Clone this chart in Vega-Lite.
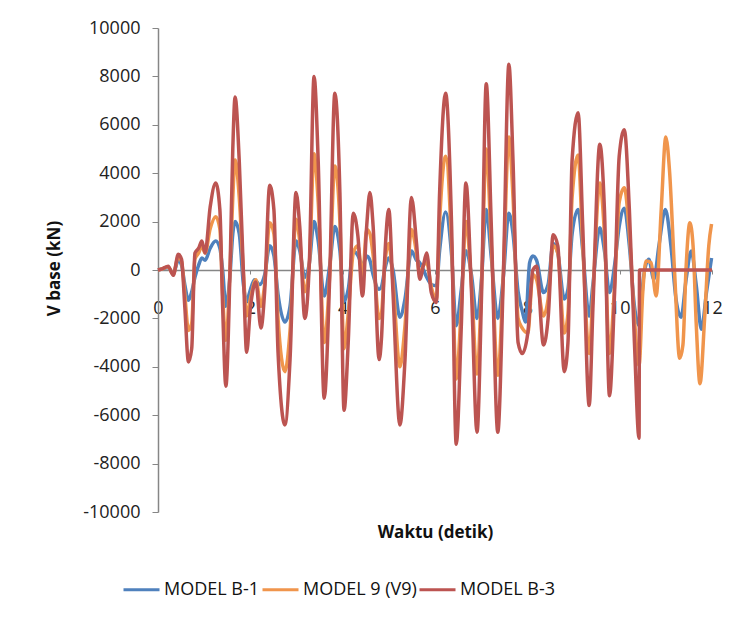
{
  "$schema": "https://vega.github.io/schema/vega-lite/v6.json",
  "width": 554,
  "height": 484,
  "autosize": "none",
  "padding": {"left": 158, "top": 28, "right": 24, "bottom": 107},
  "background": "white",
  "config": {"view": {"stroke": null}, "font": "Open Sans"},
  "datasets": {
    "b1": [
      {"t":0,"v":0},{"t":0.1,"v":50},{"t":0.22,"v":100},{"t":0.33,"v":-150},{"t":0.44,"v":400},{"t":0.51,"v":200},{"t":0.58,"v":-600},{"t":0.66,"v":-1250},{"t":0.73,"v":-900},{"t":0.8,"v":-300},{"t":0.88,"v":200},{"t":0.95,"v":500},{"t":1.02,"v":400},{"t":1.13,"v":900},{"t":1.25,"v":1200},{"t":1.34,"v":900},{"t":1.4,"v":0},{"t":1.47,"v":-1500},{"t":1.56,"v":-200},{"t":1.62,"v":1500},{"t":1.67,"v":2000},{"t":1.76,"v":1500},{"t":1.85,"v":-600},{"t":1.92,"v":-1300},{"t":1.98,"v":-950},{"t":2.09,"v":-400},{"t":2.2,"v":-600},{"t":2.31,"v":-200},{"t":2.42,"v":1000},{"t":2.51,"v":600},{"t":2.6,"v":-1000},{"t":2.75,"v":-2150},{"t":2.86,"v":-1500},{"t":2.99,"v":1200},{"t":3.07,"v":800},{"t":3.18,"v":-300},{"t":3.28,"v":300},{"t":3.38,"v":2000},{"t":3.47,"v":1200},{"t":3.6,"v":-1070},{"t":3.72,"v":200},{"t":3.83,"v":1800},{"t":3.94,"v":800},{"t":4.03,"v":-1300},{"t":4.12,"v":-800},{"t":4.23,"v":780},{"t":4.33,"v":600},{"t":4.43,"v":200},{"t":4.52,"v":575},{"t":4.59,"v":400},{"t":4.66,"v":-200},{"t":4.79,"v":-800},{"t":4.84,"v":-700},{"t":4.91,"v":0},{"t":5.0,"v":500},{"t":5.09,"v":0},{"t":5.24,"v":-1950},{"t":5.35,"v":-1200},{"t":5.49,"v":780},{"t":5.6,"v":400},{"t":5.67,"v":300},{"t":5.75,"v":0},{"t":5.82,"v":-300},{"t":5.92,"v":-600},{"t":6.03,"v":-650},{"t":6.1,"v":800},{"t":6.23,"v":2400},{"t":6.36,"v":600},{"t":6.46,"v":-2300},{"t":6.57,"v":-800},{"t":6.67,"v":800},{"t":6.79,"v":-200},{"t":6.91,"v":-2000},{"t":7.01,"v":-300},{"t":7.11,"v":2500},{"t":7.22,"v":500},{"t":7.36,"v":-2000},{"t":7.48,"v":-300},{"t":7.6,"v":2350},{"t":7.69,"v":1500},{"t":7.8,"v":-900},{"t":7.89,"v":-1700},{"t":7.96,"v":-2150},{"t":8.05,"v":300},{"t":8.12,"v":575},{"t":8.2,"v":400},{"t":8.35,"v":-930},{"t":8.45,"v":-600},{"t":8.56,"v":1100},{"t":8.66,"v":700},{"t":8.8,"v":-1200},{"t":8.88,"v":-800},{"t":8.97,"v":1500},{"t":9.1,"v":2500},{"t":9.2,"v":800},{"t":9.34,"v":-1900},{"t":9.42,"v":-600},{"t":9.57,"v":1750},{"t":9.67,"v":800},{"t":9.78,"v":-930},{"t":9.89,"v":200},{"t":9.99,"v":1800},{"t":10.1,"v":2550},{"t":10.21,"v":1000},{"t":10.32,"v":-1500},{"t":10.42,"v":-2300},{"t":10.52,"v":-250},{"t":10.63,"v":440},{"t":10.74,"v":-380},{"t":10.85,"v":1000},{"t":10.99,"v":2500},{"t":11.11,"v":1000},{"t":11.22,"v":-1200},{"t":11.33,"v":-1950},{"t":11.44,"v":-380},{"t":11.55,"v":780},{"t":11.66,"v":-650},{"t":11.77,"v":-2450},{"t":11.88,"v":-930},{"t":11.99,"v":500}
    ],
    "v9": [
      {"t":0,"v":0},{"t":0.1,"v":50},{"t":0.22,"v":130},{"t":0.33,"v":-180},{"t":0.44,"v":550},{"t":0.51,"v":350},{"t":0.58,"v":-1000},{"t":0.66,"v":-2500},{"t":0.73,"v":-2200},{"t":0.8,"v":450},{"t":0.88,"v":700},{"t":0.95,"v":1000},{"t":1.02,"v":700},{"t":1.13,"v":1700},{"t":1.25,"v":2200},{"t":1.34,"v":1700},{"t":1.4,"v":-1000},{"t":1.47,"v":-2900},{"t":1.56,"v":0},{"t":1.62,"v":3000},{"t":1.67,"v":4550},{"t":1.76,"v":3000},{"t":1.85,"v":-100},{"t":1.92,"v":-1900},{"t":2.0,"v":-1200},{"t":2.12,"v":-400},{"t":2.23,"v":-1500},{"t":2.31,"v":-600},{"t":2.42,"v":1950},{"t":2.51,"v":1500},{"t":2.6,"v":-2000},{"t":2.75,"v":-4200},{"t":2.86,"v":-2500},{"t":2.99,"v":2100},{"t":3.07,"v":1200},{"t":3.18,"v":-900},{"t":3.28,"v":300},{"t":3.38,"v":4800},{"t":3.47,"v":2800},{"t":3.6,"v":-3000},{"t":3.72,"v":-200},{"t":3.83,"v":4300},{"t":3.94,"v":2000},{"t":4.03,"v":-3250},{"t":4.12,"v":-1800},{"t":4.23,"v":700},{"t":4.33,"v":1000},{"t":4.43,"v":-300},{"t":4.52,"v":1670},{"t":4.59,"v":1500},{"t":4.66,"v":600},{"t":4.79,"v":-2000},{"t":4.84,"v":-1800},{"t":4.91,"v":200},{"t":5.0,"v":1100},{"t":5.09,"v":-500},{"t":5.24,"v":-4000},{"t":5.35,"v":-2300},{"t":5.49,"v":1670},{"t":5.6,"v":700},{"t":5.67,"v":-200},{"t":5.75,"v":200},{"t":5.82,"v":300},{"t":5.92,"v":-700},{"t":6.03,"v":-1200},{"t":6.1,"v":2000},{"t":6.23,"v":4700},{"t":6.36,"v":1000},{"t":6.46,"v":-4500},{"t":6.57,"v":-1500},{"t":6.67,"v":2000},{"t":6.79,"v":-600},{"t":6.91,"v":-4300},{"t":7.01,"v":-500},{"t":7.11,"v":5000},{"t":7.22,"v":1000},{"t":7.36,"v":-4350},{"t":7.48,"v":-200},{"t":7.6,"v":5500},{"t":7.69,"v":3000},{"t":7.8,"v":-2000},{"t":7.89,"v":-2400},{"t":8.01,"v":-2600},{"t":8.12,"v":-200},{"t":8.2,"v":-400},{"t":8.35,"v":-1900},{"t":8.45,"v":-1200},{"t":8.56,"v":1000},{"t":8.66,"v":700},{"t":8.8,"v":-2600},{"t":8.88,"v":-1800},{"t":8.97,"v":3000},{"t":9.1,"v":4750},{"t":9.2,"v":1000},{"t":9.34,"v":-3450},{"t":9.42,"v":-1000},{"t":9.57,"v":3600},{"t":9.67,"v":1500},{"t":9.78,"v":-3450},{"t":9.89,"v":-600},{"t":9.99,"v":2800},{"t":10.1,"v":3400},{"t":10.21,"v":1500},{"t":10.32,"v":-2000},{"t":10.42,"v":-3950},{"t":10.5,"v":-930},{"t":10.57,"v":370},{"t":10.68,"v":300},{"t":10.79,"v":-1070},{"t":10.9,"v":2500},{"t":11.0,"v":5500},{"t":11.08,"v":4100},{"t":11.19,"v":-100},{"t":11.3,"v":-3650},{"t":11.37,"v":-3100},{"t":11.44,"v":160},{"t":11.52,"v":1950},{"t":11.59,"v":1000},{"t":11.66,"v":-2300},{"t":11.74,"v":-4700},{"t":11.84,"v":-2000},{"t":11.93,"v":1000},{"t":11.99,"v":1900}
    ],
    "b3": [
      {"t":0,"v":0},{"t":0.1,"v":60},{"t":0.22,"v":160},{"t":0.33,"v":-220},{"t":0.44,"v":650},{"t":0.51,"v":440},{"t":0.58,"v":-1500},{"t":0.66,"v":-3800},{"t":0.73,"v":-3250},{"t":0.8,"v":700},{"t":0.88,"v":900},{"t":0.95,"v":1200},{"t":1.02,"v":700},{"t":1.13,"v":2600},{"t":1.25,"v":3600},{"t":1.34,"v":2500},{"t":1.4,"v":-1500},{"t":1.47,"v":-4800},{"t":1.56,"v":0},{"t":1.62,"v":5000},{"t":1.67,"v":7150},{"t":1.76,"v":4500},{"t":1.85,"v":-100},{"t":1.92,"v":-3400},{"t":2.0,"v":-1600},{"t":2.12,"v":-500},{"t":2.23,"v":-2400},{"t":2.31,"v":-900},{"t":2.42,"v":3500},{"t":2.51,"v":2500},{"t":2.6,"v":-3400},{"t":2.75,"v":-6400},{"t":2.86,"v":-3700},{"t":2.99,"v":3200},{"t":3.07,"v":1800},{"t":3.18,"v":-2000},{"t":3.28,"v":400},{"t":3.38,"v":8000},{"t":3.47,"v":4500},{"t":3.6,"v":-5300},{"t":3.72,"v":-250},{"t":3.83,"v":7300},{"t":3.94,"v":3200},{"t":4.03,"v":-5800},{"t":4.12,"v":-3000},{"t":4.23,"v":2350},{"t":4.33,"v":1400},{"t":4.43,"v":-1070},{"t":4.52,"v":1800},{"t":4.59,"v":3200},{"t":4.66,"v":1800},{"t":4.79,"v":-3700},{"t":4.84,"v":-2850},{"t":4.91,"v":440},{"t":5.0,"v":2500},{"t":5.09,"v":-930},{"t":5.24,"v":-6400},{"t":5.35,"v":-3700},{"t":5.49,"v":3000},{"t":5.6,"v":1100},{"t":5.67,"v":-380},{"t":5.75,"v":200},{"t":5.82,"v":700},{"t":5.92,"v":-930},{"t":6.03,"v":-1340},{"t":6.1,"v":3200},{"t":6.23,"v":7300},{"t":6.36,"v":1800},{"t":6.46,"v":-7200},{"t":6.57,"v":-2300},{"t":6.67,"v":3600},{"t":6.79,"v":-900},{"t":6.91,"v":-6700},{"t":7.01,"v":-900},{"t":7.11,"v":7700},{"t":7.22,"v":1800},{"t":7.36,"v":-6700},{"t":7.48,"v":-250},{"t":7.6,"v":8500},{"t":7.69,"v":4500},{"t":7.8,"v":-3000},{"t":7.89,"v":-3450},{"t":8.01,"v":-2600},{"t":8.12,"v":0},{"t":8.2,"v":160},{"t":8.35,"v":-3100},{"t":8.45,"v":-2000},{"t":8.56,"v":1460},{"t":8.66,"v":1000},{"t":8.8,"v":-4200},{"t":8.88,"v":-3000},{"t":8.97,"v":4550},{"t":9.1,"v":6500},{"t":9.2,"v":1800},{"t":9.34,"v":-5600},{"t":9.42,"v":-1600},{"t":9.57,"v":5200},{"t":9.67,"v":2500},{"t":9.78,"v":-5200},{"t":9.89,"v":-930},{"t":9.99,"v":4700},{"t":10.1,"v":5800},{"t":10.21,"v":2500},{"t":10.32,"v":-3000},{"t":10.42,"v":-6950},{"t":10.43,"v":0},{"t":12,"v":0}
    ]
  },
  "encoding": {
    "x": {
      "field": "t", "type": "quantitative",
      "scale": {"domain": [0, 12], "nice": false},
      "axis": {
        "title": "Waktu (detik)", "values": [0, 2, 4, 6, 8, 10, 12],
        "offset": -242, "grid": false,
        "domainColor": "#868686", "domainWidth": 1.5, "tickColor": "#868686", "tickSize": 4,
        "labelPadding": 25, "labelFontSize": 18, "labelColor": "#222222", "labelFlush": false,
        "titleFontSize": 17, "titleFontWeight": "bold", "titleColor": "#111111",
        "titleX": 277, "titleY": 262, "titleBaseline": "middle", "titleAnchor": "middle"
      }
    },
    "y": {
      "field": "v", "type": "quantitative",
      "scale": {"domain": [-10000, 10000], "nice": false},
      "axis": {
        "title": "V base (kN)", "values": [-10000, -8000, -6000, -4000, -2000, 0, 2000, 4000, 6000, 8000, 10000],
        "grid": false, "labelExpr": "toString(datum.value)",
        "domainColor": "#868686", "domainWidth": 1.5, "tickColor": "#868686", "tickSize": 6,
        "labelPadding": 12, "labelFontSize": 18, "labelColor": "#222222",
        "titleFontSize": 17, "titleFontWeight": "bold", "titleColor": "#111111",
        "titleX": -104, "titleY": 240, "titleBaseline": "middle", "titleAngle": -90
      }
    }
  },
  "layer": [
    {
      "data": {"name": "b1"},
      "mark": {"type": "line", "strokeWidth": 3.5, "interpolate": "monotone"},
      "encoding": {
        "color": {
          "datum": "MODEL B-1", "type": "nominal",
          "scale": {"domain": ["MODEL B-1", "MODEL 9 (V9)", "MODEL B-3"], "range": ["#4F81BD", "#F0954C", "#BC5451"]},
          "legend": {
            "title": null, "orient": "none", "legendX": -36, "legendY": 542, "direction": "horizontal",
            "symbolType": "stroke", "symbolSize": 1296, "symbolStrokeWidth": 3,
            "labelFontSize": 18, "labelColor": "#111111", "labelOffset": 3, "columnPadding": -4, "padding": 0
          }
        }
      }
    },
    {
      "data": {"name": "v9"},
      "mark": {"type": "line", "strokeWidth": 3.5, "interpolate": "monotone"},
      "encoding": {"color": {"datum": "MODEL 9 (V9)", "type": "nominal"}}
    },
    {
      "data": {"name": "b3"},
      "mark": {"type": "line", "strokeWidth": 3.5, "interpolate": "monotone"},
      "encoding": {"color": {"datum": "MODEL B-3", "type": "nominal"}}
    }
  ]
}
